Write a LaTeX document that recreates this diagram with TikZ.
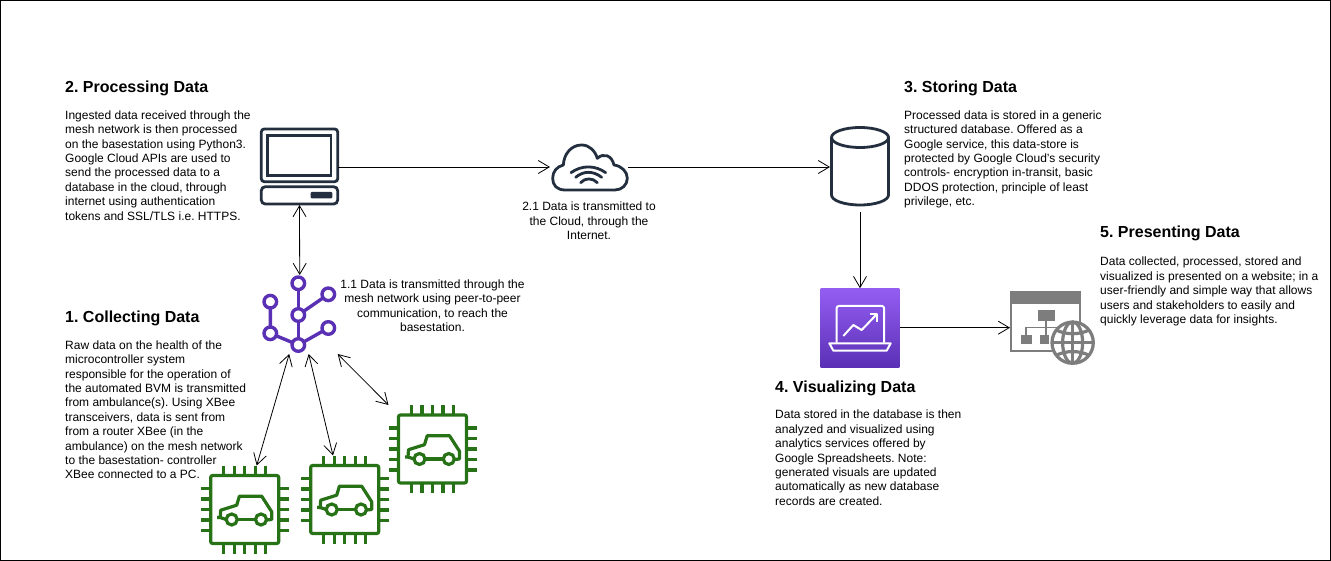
\documentclass[tikz,border=0pt]{standalone}
\usepackage{fontspec}
\setmainfont{Liberation Sans}
\frenchspacing
\usepackage{tikz}
\usetikzlibrary{positioning,arrows.meta,calc}
\definecolor{ink}{HTML}{232F3E}
\definecolor{mesh}{HTML}{5A30B5}
\definecolor{chipgreen}{HTML}{277116}
\definecolor{vistop}{HTML}{945DF2}
\definecolor{webgray}{HTML}{7D7D7D}
\tikzset{
  pics/chipcar/.style={code={
    \draw[chipline,rounded corners=2pt] (-34,-34) rectangle (34,34);
    \foreach \p in {-21,-10.5,0,10.5,21}{
      \draw[chipline] (\p,-34) -- (\p,-44);
      \draw[chipline] (\p,34) -- (\p,44);
      \draw[chipline] (-34,\p) -- (-44,\p);
      \draw[chipline] (34,\p) -- (44,\p);}
    \draw[chipline,line join=round] (-27.5,8) -- (-24.5,8) -- (-24,0.7) -- (-8,-4.3) -- (-5.3,-13.3)
      -- (17,-13.3) -- (27,2.3) -- (27,10) -- (22,10.5);
    \draw[chipline] (-24.5,8) -- (-18.5,10);
    \draw[chipline] (-7.5,10) -- (10.8,10);
    \draw[chipline] (-13,10) circle (5.5);
    \draw[chipline] (16.3,10) circle (5.5);
  }}}
\begin{document}
\begin{tikzpicture}[x=1pt,y=-1pt,
  head/.style={font=\fontsize{16}{19}\selectfont\bfseries,anchor=base west,inner sep=0pt},
  note/.style={font=\fontsize{12}{14.4}\selectfont,align=left,anchor=north west,inner sep=0pt},
  mid/.style={font=\fontsize{12}{14.4}\selectfont,align=center,anchor=north,inner sep=0pt},
  icon/.style={inner sep=0pt,outer sep=0pt},
  flow/.style={-{Straight Barb[length=11pt,width=13pt]},black,line width=0.8pt},
  both/.style={{Straight Barb[length=11pt,width=13pt]}-{Straight Barb[length=11pt,width=13pt]},black,line width=0.8pt},
  inkline/.style={draw=ink,line width=2.8pt},
  meshline/.style={draw=mesh,line width=3.4pt},
  meshdot/.style={meshline,fill=white},
  chipline/.style={draw=chipgreen,line width=3.2pt},
  webline/.style={draw=webgray,line width=3.2pt},
  visline/.style={draw=white,line width=2pt,line join=round}]
\useasboundingbox (0,0) rectangle (1331,561);
\draw[black,line width=1pt] (0.5,0.5) rectangle (1330.5,560.5);
% icons, each behind a named box for the connectors
\node[icon,minimum width=77pt,minimum height=76pt] (pc) at (299.5,167) {};
\draw[inkline,rounded corners=3pt] (261.3,129) rectangle (337.7,181.7);
\draw[inkline] (267.7,135.7) rectangle (331,175.7);
\draw[inkline,rounded corners=4pt] (261.3,186.7) rectangle (337.7,204);
\fill[ink,rounded corners=1pt] (310.7,192) rectangle (332.3,198.3);
\node[icon,minimum width=76pt,minimum height=79pt] (meshnet) at (299.7,314.5) {};
\draw[meshline] (298.3,283.3) -- (298.3,345);
\draw[meshline] (298.3,315) -- (328.3,294.3);
\draw[meshline] (270.3,301.7) -- (270.3,333.3) -- (298.3,345) -- (328.3,328);
\foreach \x/\y in {298.3/283.3,328.3/294.3,298.3/315,270.3/301.7,270.3/333.3,298.3/345,328.3/328}{
  \draw[meshdot] (\x,\y) circle (6.3);}
\node[icon,minimum width=88pt,minimum height=88pt] (chipa) at (244.7,509.5) {};
\pic at (244.7,509.5) {chipcar};
\node[icon,minimum width=88pt,minimum height=88pt] (chipb) at (344.7,499.5) {};
\pic at (344.7,499.5) {chipcar};
\node[icon,minimum width=88pt,minimum height=88pt] (chipc) at (432.5,449) {};
\pic at (432.5,449) {chipcar};
\node[icon,minimum width=78pt,minimum height=50pt] (cloud) at (589,167) {};
\begin{scope}[shift={(540,130)},x=0.3333pt,y=-0.3333pt]
\draw[inkline,line join=round] (75,180) .. controls (50,180) and (38,165) .. (38,145)
  .. controls (38,125) and (50,110) .. (70,105) .. controls (72,70) and (95,45) .. (125,45)
  .. controls (148,45) and (165,62) .. (172,85) .. controls (190,68) and (215,75) .. (222,105)
  .. controls (245,108) and (262,125) .. (262,145) .. controls (262,165) and (245,180) .. (225,180) -- cycle;
\draw[inkline,line cap=round] (93,128) .. controls (125,105) and (165,105) .. (197,128);
\draw[inkline,line cap=round] (107,142) .. controls (130,122) and (160,122) .. (185,142);
\draw[inkline,line cap=round] (122,158) .. controls (135,143) and (158,143) .. (172,158);
\end{scope}
\node[icon,minimum width=60pt,minimum height=90pt] (db) at (860,167) {};
\draw[inkline] (831.5,137.5) -- (831.5,195) arc[start angle=180,end angle=0,x radius=28.5,y radius=10]
  -- (888.5,137.5);
\draw[inkline] (860,137.5) ellipse (28.5 and 10);
\node[icon,minimum width=79pt,minimum height=79pt] (vis) at (860,327.7) {};
\shade[top color=vistop,bottom color=mesh] (820.7,289) rectangle (899.3,367.3);
\begin{scope}[shift={(810,280)},x=0.3333pt,y=-0.3333pt]
\draw[visline,rounded corners=2pt] (80,188) -- (80,78) -- (222,78) -- (222,188);
\draw[visline] (58,190) -- (242,190) -- (230,212) -- (70,212) -- cycle;
\draw[visline] (100,168) -- (130,135) -- (155,150) -- (200,103);
\draw[visline] (180,103) -- (200,103) -- (200,125);
\end{scope}
\node[icon,minimum width=85pt,minimum height=74pt] (web) at (1052.5,327.7) {};
\begin{scope}[shift={(810,280)},x=0.3333pt,y=-0.3333pt]
\fill[webgray] (600,33) rectangle (812,72);
\draw[webgray,line width=2pt] (603,72) -- (603,212) -- (725,212);
\draw[webgray,line width=2pt] (810,72) -- (810,125);
\fill[webgray] (683,90) rectangle (735,122);
\fill[webgray] (632,165) rectangle (665,193);
\fill[webgray] (690,165) rectangle (718,193);
\draw[webgray,line width=1.6pt] (648,165) -- (648,142) -- (760,142);
\draw[webgray,line width=1.6pt] (708,122) -- (708,165);
\draw[webline,fill=white] (788,188) circle (62);
\draw[webline] (788,126) -- (788,250);
\draw[webline] (726,188) -- (850,188);
\draw[webline] (788,188) ellipse (30 and 62);
\draw[webline] (738,150) .. controls (770,165) and (806,165) .. (838,150);
\draw[webline] (738,226) .. controls (770,211) and (806,211) .. (838,226);
\end{scope}
% connectors
\draw[flow] (pc.east) -- (cloud.west);
\draw[flow] (cloud.east) -- (db.west);
\draw[both] (pc.south) -- (meshnet.north);
\draw[both] ([xshift=-10.5pt]meshnet.south) -- ([xshift=12pt]chipa.north);
\draw[both] ([xshift=9pt]meshnet.south) -- ([xshift=-11.7pt]chipb.north);
\draw[both] (meshnet.south east) -- (chipc.north west);
\draw[flow] (db.south) -- (vis.north);
\draw[flow] (vis.east) -- (web.west);
% labels
\node[head] (t2) at (65,92.5) {2. Processing Data};
\node[note] (n2) at (65,110.5) {Ingested data received through the\\mesh network is then processed\\on the basestation using Python3.\\Google Cloud APIs are used to\\send the processed data to a\\database in the cloud, through\\internet using authentication\\tokens and SSL/TLS i.e. HTTPS.};
\node[head] (t1) at (65,322.5) {1. Collecting Data};
\node[note] (n1) at (65,340.5) {Raw data on the health of the\\microcontroller system\\responsible for the operation of\\the automated BVM is transmitted\\from ambulance(s). Using XBee\\transceivers, data is sent from\\from a router XBee (in the\\ambulance) on the mesh network\\to the basestation- controller\\XBee connected to a PC.};
\node[mid] (l11) at (432.5,279.5) {1.1 Data is transmitted through the\\mesh network using peer-to-peer\\communication, to reach the\\basestation.};
\node[mid] (l21) at (589,202) {2.1 Data is transmitted to\\the Cloud, through the\\Internet.};
\node[head] (t3) at (904,92.5) {3. Storing Data};
\node[note] (n3) at (904,110.5) {Processed data is stored in a generic\\structured database. Offered as a\\Google service, this data-store is\\protected by Google Cloud's security\\controls- encryption in-transit, basic\\DDOS protection, principle of least\\privilege, etc.};
\node[head] (t5) at (1100,237.5) {5. Presenting Data};
\node[note] (n5) at (1100,257) {Data collected, processed, stored and\\visualized is presented on a website; in a\\user-friendly and simple way that allows\\users and stakeholders to easily and\\quickly leverage data for insights.};
\node[head] (t4) at (775,392.5) {4. Visualizing Data};
\node[note] (n4) at (775,410) {Data stored in the database is then\\analyzed and visualized using\\analytics services offered by\\Google Spreadsheets. Note:\\generated visuals are updated\\automatically as new database\\records are created.};
\end{tikzpicture}
\end{document}
